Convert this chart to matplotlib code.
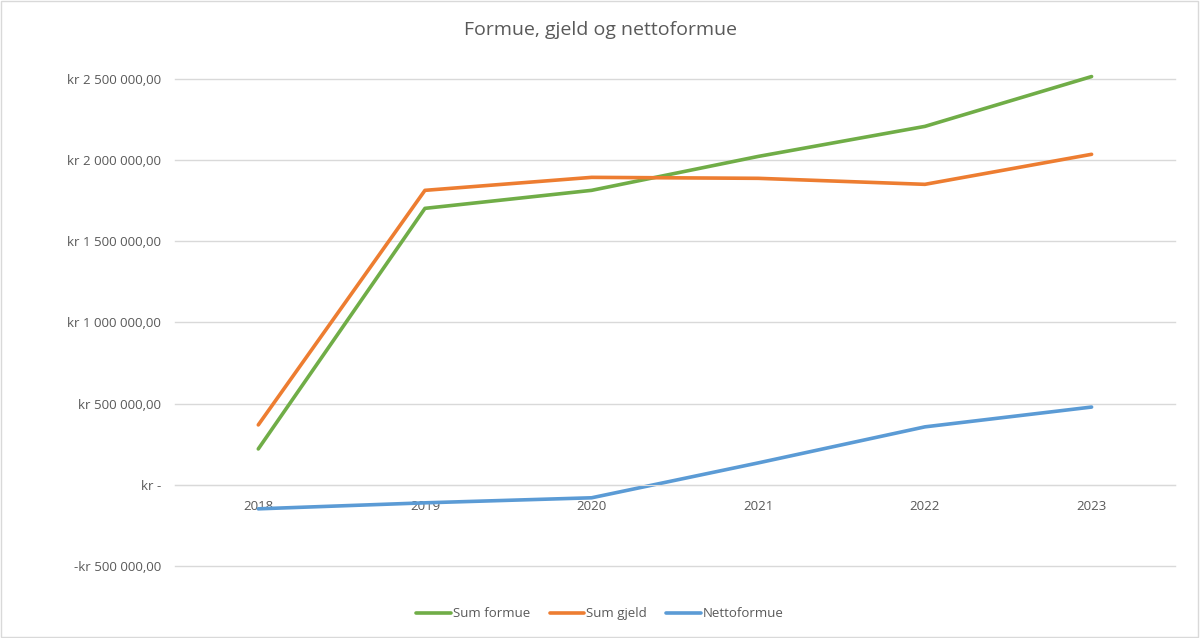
import numpy as np
from matplotlib import pyplot as plt
from matplotlib.ticker import FuncFormatter
from matplotlib.patches import Rectangle

years = ['2018', '2019', '2020', '2021', '2022', '2023']
sum_formue = [221000, 1703000, 1814000, 2023000, 2208000, 2515000]
sum_gjeld = [369000, 1814000, 1894000, 1888000, 1851000, 2036000]
nettoformue = [-148000, -111000, -80000, 135000, 357000, 479000]

plt.rcParams['font.family'] = ['Open Sans', 'DejaVu Sans']
text_col = '#595959'
grid_col = '#D9D9D9'


def kr_fmt(v, pos=None):
    if abs(v) < 1:
        return 'kr -'
    s = '{:,.2f}'.format(abs(v)).replace(',', ' ').replace('.', ',')
    return ('-kr ' if v < 0 else 'kr ') + s


fig = plt.figure(figsize=(12, 6.38), dpi=100)
ax = fig.add_axes([0.1458, 0.1129, 0.8333, 0.7633])

x = np.arange(len(years))
for ys, c, lab in [(sum_formue, '#70AD47', 'Sum formue'),
                   (sum_gjeld, '#ED7D31', 'Sum gjeld'),
                   (nettoformue, '#5B9BD5', 'Nettoformue')]:
    ax.plot(x, ys, color=c, lw=2.6, label=lab, solid_capstyle='round', clip_on=False)

ax.set_xlim(-0.5, 5.5)
ax.set_ylim(-500000, 2500000)
ax.set_yticks(np.arange(-500000, 2500001, 500000))
ax.yaxis.set_major_formatter(FuncFormatter(kr_fmt))
ax.grid(axis='y', color=grid_col, lw=1)
for gl in ax.get_ygridlines():
    gl.set_clip_on(False)
ax.set_axisbelow(True)

ax.set_xticks(x)
ax.set_xticklabels(years)
ax.spines['bottom'].set_position(('data', 0))
ax.spines['bottom'].set_color(grid_col)
for s in ['top', 'right', 'left']:
    ax.spines[s].set_visible(False)
ax.tick_params(axis='both', length=0, colors=text_col, labelsize=9.5)
ax.tick_params(axis='x', pad=11)
ax.tick_params(axis='y', pad=10)

fig.text(0.5, 0.953, 'Formue, gjeld og nettoformue', ha='center', va='center',
         fontsize=14, color=text_col)

leg = fig.legend(loc='center', bbox_to_anchor=(0.5, 0.038), ncol=3, frameon=False,
                 fontsize=9.5, handlelength=2.6, handletextpad=0.15, columnspacing=1.5)
for t in leg.get_texts():
    t.set_color(text_col)

fig.patches.append(Rectangle((0.001, 0.001), 0.997, 0.997, transform=fig.transFigure,
                             fill=False, edgecolor=grid_col, lw=1))

plt.savefig('out.png', dpi=100)
